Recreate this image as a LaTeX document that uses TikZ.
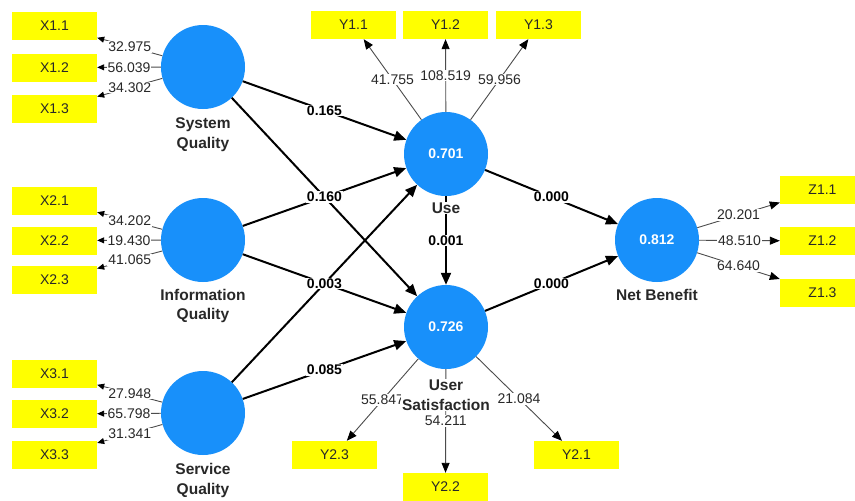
\documentclass[tikz,border=0pt]{standalone}
\usepackage{fontspec}
\setmainfont{Liberation Sans}
\usetikzlibrary{arrows.meta}
\definecolor{lvblue}{RGB}{24,144,250}
\definecolor{indyellow}{RGB}{255,255,0}
\definecolor{txt}{RGB}{40,40,40}
\begin{document}
\begin{tikzpicture}[x=1pt,y=-1pt,
 latent/.style={circle,fill=lvblue,minimum size=84pt,inner sep=0pt,text=white,font=\fontsize{14}{16}\selectfont\bfseries},
 ind/.style={rectangle,fill=indyellow,minimum width=85pt,minimum height=28pt,inner sep=0pt,font=\fontsize{14}{16}\selectfont,text=txt},
 innerarrow/.style={line width=2pt,draw=black,-{Triangle[length=12pt,width=10pt]}},
 outerx/.style={line width=0.9pt,draw=black!70,-{Triangle[length=7pt,width=6pt,fill=black,color=black]}},
 outery/.style={line width=0.9pt,draw=black!70,-{Triangle[length=10pt,width=8pt,fill=black,color=black]}},
 coef/.style={midway,fill=white,inner sep=1pt,font=\fontsize{14}{16}\selectfont\bfseries,text=black},
 load/.style={midway,fill=white,inner sep=1pt,font=\fontsize{14}{16}\selectfont,text=txt},
 lvname/.style={fill=white,inner sep=1pt,align=center,font=\fontsize{15.5}{19.5}\selectfont\bfseries,text=txt}]
\path[use as bounding box] (0,0) rectangle (855,501);
\clip (0,0) rectangle (855,501);
\fill[white] (0,0) rectangle (855,501);

% latent variables
\node[latent] (SQ) at (203,67) {};
\node[latent] (IQ) at (203,240) {};
\node[latent] (SV) at (203,413) {};
\node[latent] (U) at (446,154) {0.701};
\node[latent] (US) at (446,327) {0.726};
\node[latent] (NB) at (657,240) {0.812};

% indicators
\node[ind] (X11) at (54.5,26) {X1.1};
\node[ind] (X12) at (54.5,67.5) {X1.2};
\node[ind] (X13) at (54.5,108.5) {X1.3};
\node[ind] (X21) at (54.5,201) {X2.1};
\node[ind] (X22) at (54.5,240.5) {X2.2};
\node[ind] (X23) at (54.5,280) {X2.3};
\node[ind] (X31) at (54.5,373.5) {X3.1};
\node[ind] (X32) at (54.5,414) {X3.2};
\node[ind] (X33) at (54.5,455) {X3.3};
\node[ind] (Y11) at (353.5,25) {Y1.1};
\node[ind] (Y12) at (445.5,25) {Y1.2};
\node[ind] (Y13) at (538.5,25) {Y1.3};
\node[ind] (Z11) at (822.5,189.5) {Z1.1};
\node[ind] (Z12) at (822.5,241) {Z1.2};
\node[ind] (Z13) at (822.5,292.5) {Z1.3};
\node[ind] (Y23) at (334.5,455) {Y2.3};
\node[ind] (Y22) at (445.5,487) {Y2.2};
\node[ind] (Y21) at (576.5,455) {Y2.1};

% outer loadings
\draw[outerx] (SQ) -- node[load]{32.975} (X11);
\draw[outerx] (SQ) -- node[load]{56.039} (X12);
\draw[outerx] (SQ) -- node[load]{34.302} (X13);
\draw[outerx] (IQ) -- node[load]{34.202} (X21);
\draw[outerx] (IQ) -- node[load]{19.430} (X22);
\draw[outerx] (IQ) -- node[load]{41.065} (X23);
\draw[outerx] (SV) -- node[load]{27.948} (X31);
\draw[outerx] (SV) -- node[load]{65.798} (X32);
\draw[outerx] (SV) -- node[load]{31.341} (X33);
\draw[outery] (U) -- node[load]{41.755} (Y11);
\draw[outery] (U) -- node[load]{108.519} (Y12);
\draw[outery] (U) -- node[load]{59.956} (Y13);
\draw[outery] (NB) -- node[load]{20.201} (Z11);
\draw[outery] (NB) -- node[load]{48.510} (Z12);
\draw[outery] (NB) -- node[load]{64.640} (Z13);
\draw[outery] (US) -- node[load]{55.847} (Y23);
\draw[outery] (US) -- node[load]{54.211} (Y22);
\draw[outery] (US) -- node[load]{21.084} (Y21);

% inner model
\draw[innerarrow] (IQ) -- (U);
\draw[innerarrow] (SV) -- (U);
\draw[innerarrow] (SQ) -- node[coef]{0.165} (U);
\draw[innerarrow] (SQ) -- node[coef]{0.160} (US);
\draw[innerarrow] (IQ) -- node[coef]{0.003} (US);
\draw[innerarrow] (SV) -- node[coef]{0.085} (US);
\draw[innerarrow] (U) -- node[coef]{0.001} (US);
\draw[innerarrow] (U) -- node[coef]{0.000} (NB);
\draw[innerarrow] (US) -- node[coef]{0.000} (NB);

% names
\node[lvname] (SQn) at (203,134.5) {System\\Quality};
\node[lvname] (IQn) at (203,306) {Information\\Quality};
\node[lvname] (SVn) at (203,480.5) {Service\\Quality};
\node[lvname] (Un) at (446,208) {Use};
\node[lvname] (USn) at (446,395) {User\\Satisfaction};
\node[lvname] (NBn) at (657,295) {Net Benefit};
\end{tikzpicture}
\end{document}
